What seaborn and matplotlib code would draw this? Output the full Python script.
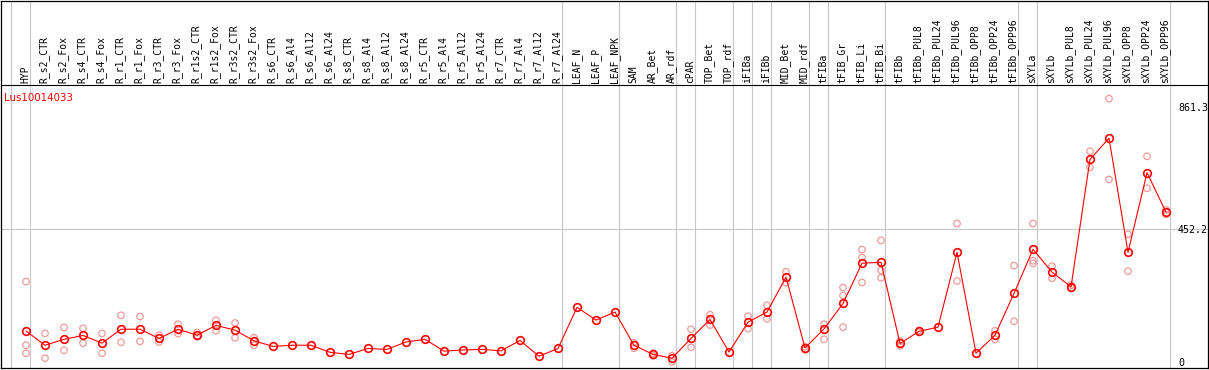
import numpy as np
import pandas as pd
import seaborn as sns
import matplotlib.pyplot as plt

gene = "Lus10014033"

samples = ["HYP", "R_s2_CTR", "R_s2_Fox", "R_s4_CTR", "R_s4_Fox", "R_r1_CTR", "R_r1_Fox",
           "R_r3_CTR", "R_r3_Fox", "R_r1s2_CTR", "R_r1s2_Fox", "R_r3s2_CTR", "R_r3s2_Fox",
           "R_s6_CTR", "R_s6_Al4", "R_s6_Al12", "R_s6_Al24", "R_s8_CTR", "R_s8_Al4",
           "R_s8_Al12", "R_s8_Al24", "R_r5_CTR", "R_r5_Al4", "R_r5_Al12", "R_r5_Al24",
           "R_r7_CTR", "R_r7_Al4", "R_r7_Al12", "R_r7_Al24", "LEAF_N", "LEAF_P", "LEAF_NPK",
           "SAM", "AR_Bet", "AR_rdf", "cPAR", "TOP_Bet", "TOP_rdf", "iFIBa", "iFIBb",
           "MID_Bet", "MID_rdf", "tFIBa", "tFIB_Gr", "tFIB_Li", "tFIB_Bi", "tFIBb",
           "tFIBb_PUL8", "tFIBb_PUL24", "tFIBb_PUL96", "tFIBb_OPP8", "tFIBb_OPP24",
           "tFIBb_OPP96", "sXYLa", "sXYLb", "sXYLb_PUL8", "sXYLb_PUL24", "sXYLb_PUL96",
           "sXYLb_OPP8", "sXYLb_OPP24", "sXYLb_OPP96"]

means = [106, 58, 78, 91, 65, 112, 112, 81, 112, 92, 125, 109, 73,
         54, 58, 58, 34, 27, 47, 44, 69, 78, 38, 42, 44, 39, 74, 21, 47,
         186, 143, 170, 58, 27, 14, 81, 145, 35, 136, 170, 288, 49,
         113, 199, 335, 338, 64, 105, 119, 372, 31, 92, 233,
         382, 305, 255, 686, 757, 372, 641, 507]

replicates = [[273, 58, 31], [98, 14], [118, 41], [115, 65], [98, 31], [159, 68], [155, 71],
              [92, 69], [129, 97], [101, 87], [142, 107], [133, 83], [83, 58],
              [], [], [], [], [], [], [], [], [], [], [], [], [], [], [], [],
              [], [], [],
              [66, 48], [31, 22], [23, 2], [112, 51], [161, 126], [], [156, 114], [193, 147],
              [306, 269], [53, 42], [129, 78], [253, 226, 119], [381, 354, 270],
              [412, 311, 286], [72, 56], [108, 101], [], [469, 275], [], [107, 78], [327, 139],
              [469, 343, 334], [325, 284], [261, 250], [713, 659], [891, 618], [433, 308],
              [696, 588], [515, 500]]

# last sample of each group (a line is drawn right after it), "" = left edge
group_ends = ["", "HYP", "R_r7_Al24", "LEAF_NPK", "AR_rdf", "cPAR", "TOP_rdf", "iFIBa",
              "iFIBb", "MID_rdf", "tFIBa", "tFIB_Bi", "tFIBb_OPP96", "sXYLa", "sXYLb_OPP96"]

yticks = [0, 452.2, 861.3]

df_mean = pd.DataFrame({"pos": np.arange(len(samples)), "value": means})
df_rep = pd.DataFrame([(i, v) for i, reps in enumerate(replicates) for v in reps],
                      columns=["pos", "value"])

sns.set_style("white")
plt.rcParams['font.family'] = ['DejaVu Sans Mono', 'DejaVu Sans']
plt.rcParams['text.color'] = 'black'
plt.rcParams['ytick.color'] = 'black'

fig = plt.figure(figsize=(12.09, 3.70), dpi=100)
ax = fig.add_axes([1 / 1209, 2 / 370, 1207 / 1209, 367.5 / 370])

grid_col = "#c8c8c8"
for name in group_ends:
    idx = samples.index(name) if name else -1
    ax.axvline(idx + 0.23, color=grid_col, lw=0.8, zorder=0)
ax.axhline(yticks[1], color=grid_col, lw=0.8, zorder=0)

sns.scatterplot(data=df_rep, x="pos", y="value", marker="o", s=22, color="none",
                edgecolor="#ef9a9a", linewidth=0.9, ax=ax, zorder=2)
sns.lineplot(data=df_mean, x="pos", y="value", color="red", lw=0.8, marker="o",
             markersize=5.5, markerfacecolor="none", markeredgecolor="red",
             markeredgewidth=1.2, ax=ax, zorder=3)

ax.set_xlim(-1.316, 62.21)
ax.set_ylim(-18.9, 1222.3)

# header separator and sample names
head = 283 / 367.5
ax.plot([0, 1], [head, head], transform=ax.transAxes, color="black", lw=0.8)
trans = ax.get_xaxis_transform()
for i, name in enumerate(samples):
    ax.text(i - 0.05, head + 0.006, name, rotation=90, ha="center", va="bottom",
            fontsize=7, color="black", transform=trans)

ax.text(3 / 1207, (367.5 - 97) / 367.5, gene, color="red", fontsize=7.4,
        family="DejaVu Sans", va="center", ha="left", transform=ax.transAxes)

ax.set_yticks(yticks)
ax.set_yticklabels(["0", "452.2", "861.3"])
ax.tick_params(axis="y", left=False, labelleft=False, right=False, labelright=True,
               length=0, pad=-21.6, labelsize=7.2, labelcolor="black")
for lab in ax.get_yticklabels():
    lab.set_horizontalalignment("left")
ax.set_xticks([])
ax.set_xlabel("")
ax.set_ylabel("")
for sp in ax.spines.values():
    sp.set_visible(True)
    sp.set_color("black")
    sp.set_linewidth(0.9)

fig.savefig("out.png", dpi=100)
